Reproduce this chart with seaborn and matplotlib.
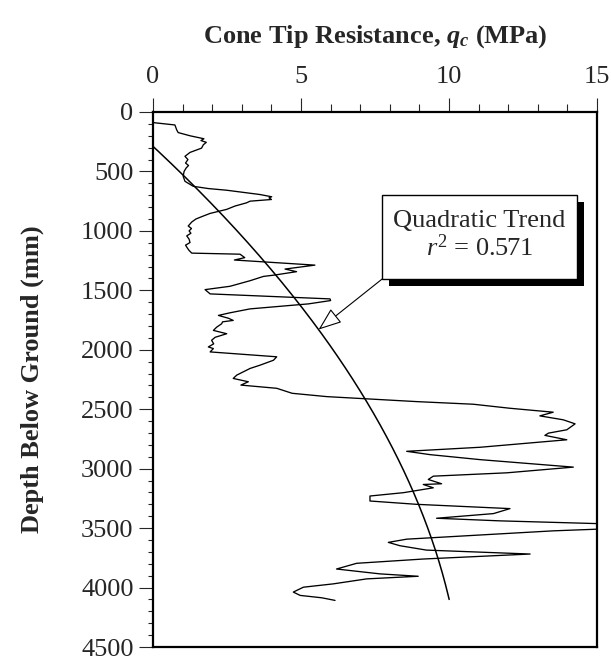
import numpy as np
import matplotlib
matplotlib.use("Agg")
import matplotlib.pyplot as plt
from matplotlib.patches import Rectangle
from matplotlib.ticker import MultipleLocator
import seaborn as sns

# Cone penetration profile: depth below ground (mm) and tip resistance (MPa)
depth_mm = [89, 109, 150, 173, 200, 225, 240, 255, 276, 304, 340, 373, 400, 429,
            450, 471, 500, 541, 583, 625, 644, 658, 694, 713, 722, 736, 750, 764,
            791, 819, 853, 875, 900, 925, 959, 980, 1000, 1020, 1042, 1070, 1098,
            1120, 1140, 1165, 1187, 1196, 1225, 1245, 1288, 1321, 1343, 1371, 1383,
            1419, 1466, 1494, 1530, 1544, 1572, 1586, 1614, 1656, 1689, 1711, 1735,
            1753, 1765, 1781, 1810, 1837, 1865, 1895, 1920, 1950, 1976, 1990, 2018,
            2059, 2088, 2130, 2157, 2213, 2241, 2269, 2297, 2324, 2366, 2394, 2436,
            2458, 2492, 2525, 2556, 2589, 2623, 2673, 2701, 2720, 2757, 2820, 2854,
            2882, 2924, 2987, 3035, 3063, 3091, 3127, 3133, 3161, 3202, 3230, 3272,
            3300, 3336, 3378, 3417, 3439, 3462, 3509, 3523, 3593, 3620, 3648, 3685,
            3718, 3760, 3796, 3844, 3885, 3905, 3927, 3969, 3997, 4038, 4066, 4086,
            4108]
qc_mpa = [0.00, 0.74, 0.80, 0.85, 1.25, 1.72, 1.62, 1.80, 1.70, 1.64, 1.25, 1.08,
          1.18, 1.10, 1.20, 1.12, 1.05, 1.02, 1.08, 1.36, 1.87, 2.49, 3.61, 4.01,
          3.92, 4.00, 3.28, 3.16, 2.77, 2.49, 1.93, 1.70, 1.45, 1.31, 1.19, 1.30,
          1.22, 1.28, 1.14, 1.22, 1.25, 1.10, 1.15, 1.22, 1.31, 2.94, 3.10, 2.75,
          5.47, 4.46, 4.85, 4.12, 3.73, 3.28, 2.60, 1.76, 1.93, 3.28, 5.98, 6.00,
          5.25, 3.28, 2.60, 2.21, 2.55, 2.71, 2.35, 2.32, 2.15, 2.04, 2.49, 2.10,
          1.98, 2.05, 1.87, 2.04, 1.93, 4.18, 4.07, 3.61, 3.28, 2.83, 2.71, 3.22,
          2.97, 4.18, 4.70, 5.87, 8.91, 10.82, 12.06, 13.52, 13.07, 13.86, 14.26,
          13.98, 13.36, 13.24, 13.98, 11.05, 8.57, 9.36, 11.05, 14.20, 11.95, 9.47,
          9.30, 9.75, 9.13, 9.47, 8.46, 7.33, 7.33, 8.91, 12.06, 11.50, 9.58, 11.72,
          15.00, 15.00, 13.52, 8.57, 7.95, 8.34, 9.24, 12.74, 9.13, 6.88, 6.20, 7.67,
          8.96, 7.22, 6.09, 5.08, 4.74, 4.97, 5.70, 6.15]

# Quadratic trend of qc against depth (m), highest power first
trend_coef = [-0.4425, 4.5675, -1.283]
trend_r2 = 0.571
trend_depth_span = [0, 4100]

x_ticks = [0, 5, 10, 15]
y_ticks = [0, 500, 1000, 1500, 2000, 2500, 3000, 3500, 4000, 4500]

sns.set_style("ticks")
plt.rcParams["font.family"] = ["Liberation Serif", "DejaVu Serif"]
plt.rcParams["mathtext.fontset"] = "custom"
plt.rcParams["mathtext.rm"] = "Liberation Serif"
plt.rcParams["mathtext.it"] = "Liberation Serif:italic"
plt.rcParams["mathtext.bf"] = "Liberation Serif:bold"
plt.rcParams["mathtext.bfit"] = "Liberation Serif:bold:italic"

W, H = 611, 659
fig = plt.figure(figsize=(W / 100, H / 100), dpi=100)
ax = fig.add_axes([153 / W, 1 - 647 / H, 444 / W, 535 / H])

# measured profile
sns.lineplot(x=qc_mpa, y=depth_mm, sort=False, estimator=None, orient="y",
             color="black", lw=0.95, ax=ax)

# fitted trend
z_fit = np.linspace(trend_depth_span[0], trend_depth_span[1], 300)
q_fit = np.polyval(trend_coef, z_fit / 1000.0)
sns.lineplot(x=q_fit, y=z_fit, sort=False, estimator=None, orient="y",
             color="black", lw=1.1, ax=ax)

ax.set_xlim(x_ticks[0], x_ticks[-1])
ax.set_ylim(y_ticks[-1], y_ticks[0])
ax.set_xticks(x_ticks)
ax.set_yticks(y_ticks)
ax.xaxis.set_minor_locator(MultipleLocator(1))
ax.yaxis.set_minor_locator(MultipleLocator(100))
ax.xaxis.tick_top()
ax.xaxis.set_label_position("top")

for s in ax.spines.values():
    s.set_linewidth(1.6)
    s.set_color("black")

ax.tick_params(axis="x", which="major", direction="out", length=10, width=0.8,
               labelsize=19, pad=7, top=True, bottom=False)
ax.tick_params(axis="x", which="minor", direction="out", length=5.8, width=0.8,
               top=True, bottom=False)
ax.tick_params(axis="y", which="major", direction="out", length=10, width=0.8,
               labelsize=19, pad=4, left=True, right=False)
ax.tick_params(axis="y", which="minor", direction="out", length=3.6, width=0.8,
               left=True, right=False)

ax.set_xlabel(r"Cone Tip Resistance, $\mathbfit{q}_{\mathbfit{c}}$ (MPa)",
              fontsize=19, fontweight="bold")
ax.xaxis.set_label_coords(0.5, 1.13)
ax.set_ylabel("Depth Below Ground (mm)", fontsize=19, fontweight="bold")
ax.yaxis.set_label_coords(-0.245, 0.5)

# annotation box with drop shadow
box_x0, box_x1 = 7.74, 14.33
box_z0, box_z1 = 694, 1405
dx, dz = 0.24, 60
ax.add_patch(Rectangle((box_x0 + dx, box_z0 + dz), box_x1 - box_x0, box_z1 - box_z0,
                       facecolor="black", edgecolor="black", lw=0, zorder=4))
ax.add_patch(Rectangle((box_x0, box_z0), box_x1 - box_x0, box_z1 - box_z0,
                       facecolor="white", edgecolor="black", lw=1.0, zorder=5))
cx = (box_x0 + box_x1) / 2
ax.text(cx, 920, "Quadratic Trend", ha="center", va="center", fontsize=19, zorder=6)
ax.text(cx, 1140, f"$r^2$ = {trend_r2:.3f}", ha="center", va="center",
        fontsize=19, zorder=6)

# arrow from the box to the trend curve
z_arrow = 1830
q_arrow = np.polyval(trend_coef, z_arrow / 1000.0)
ax.annotate("", xy=(q_arrow, z_arrow), xytext=(box_x0, box_z1),
            arrowprops=dict(arrowstyle="-|>,head_length=1.45,head_width=0.55",
                            mutation_scale=10, fc="white", ec="black", lw=0.8,
                            shrinkA=0, shrinkB=0), zorder=6)

fig.savefig("out.png", dpi=100)
